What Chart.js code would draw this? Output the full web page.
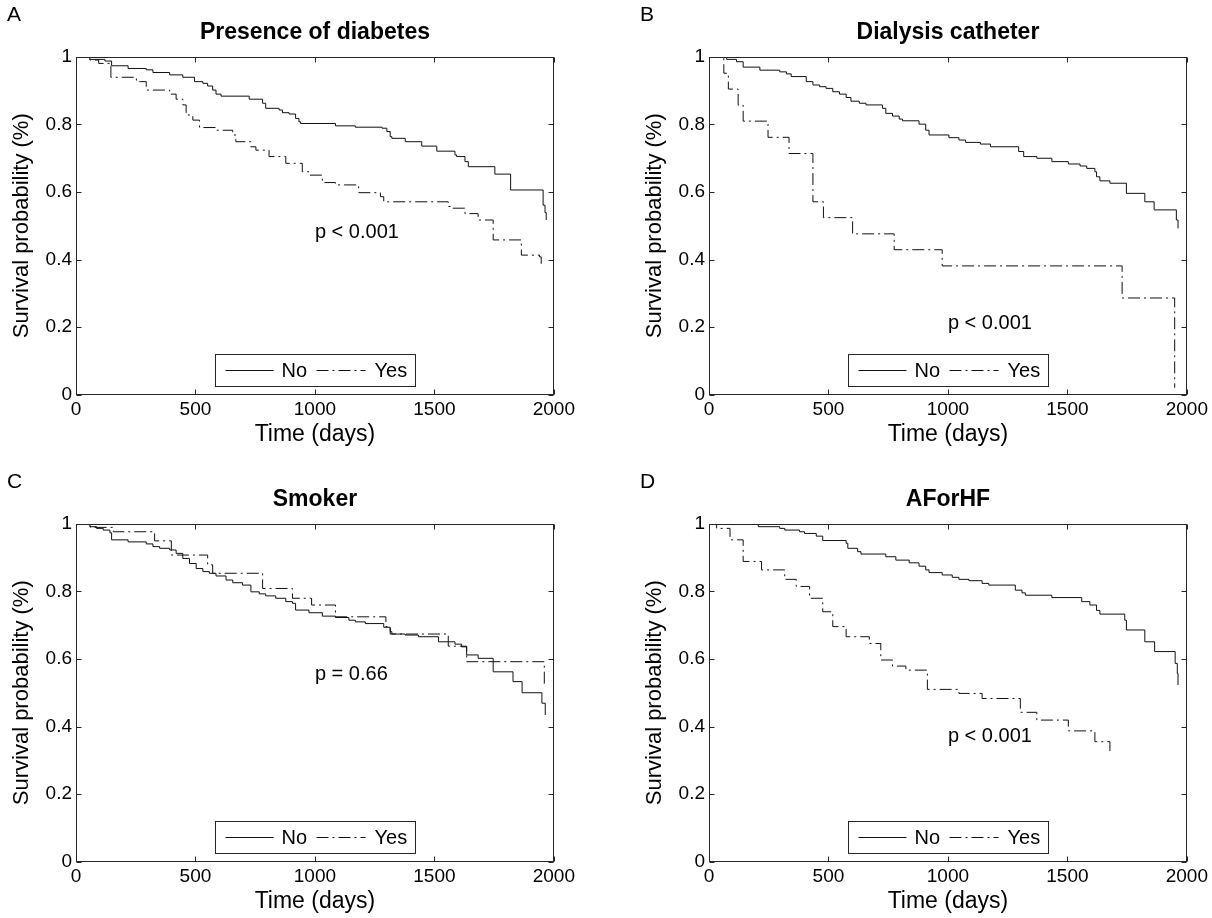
<!DOCTYPE html>
<html>
<head>
<meta charset="utf-8">
<script src="https://cdn.jsdelivr.net/npm/chart.js@4.4.1/dist/chart.umd.min.js"></script>
<style>
  body { margin: 0; background: #fff; }
  canvas { position: absolute; }
</style>
</head>
<body>
<canvas id="panelA" width="579" height="451" style="left:0px;top:0px"></canvas>
<canvas id="panelB" width="579" height="451" style="left:633px;top:0px"></canvas>
<canvas id="panelC" width="579" height="451" style="left:0px;top:467px"></canvas>
<canvas id="panelD" width="579" height="451" style="left:633px;top:467px"></canvas>
<script>
// tick labels shared by all four panels
const xTicks = [0, 500, 1000, 1500, 2000]
const xTickLabels = ['0', '500', '1000', '1500', '2000']
const yTicks = [0, 0.2, 0.4, 0.6, 0.8, 1]
const yTickLabels = ['0', '0.2', '0.4', '0.6', '0.8', '1']
const groupLabels = ['No', 'Yes']
const panelLetters = ['A', 'B', 'C', 'D']
const panelTitles = ['Presence of diabetes', 'Dialysis catheter', 'Smoker', 'AForHF']
const pValues = ['p < 0.001', 'p < 0.001', 'p = 0.66', 'p < 0.001']

// A - presence of diabetes
const diabetesNoT = [0, 58, 121, 149, 218, 294, 322, 392, 447, 496, 531, 551, 572, 586, 607, 725, 781, 794, 850, 864, 892, 919, 933, 940, 1086, 1169, 1281, 1301, 1315, 1322, 1378, 1447, 1510, 1586, 1593, 1628, 1642, 1753, 1819, 1955, 1963, 1968]
const diabetesNoS = [1, 0.993, 0.988, 0.974, 0.966, 0.962, 0.954, 0.947, 0.940, 0.927, 0.922, 0.914, 0.902, 0.890, 0.884, 0.875, 0.863, 0.848, 0.843, 0.835, 0.831, 0.818, 0.808, 0.803, 0.796, 0.792, 0.789, 0.779, 0.764, 0.759, 0.749, 0.736, 0.721, 0.710, 0.705, 0.690, 0.675, 0.653, 0.606, 0.561, 0.539, 0.517]
const diabetesYesT = [0, 58, 95, 146, 253, 294, 392, 419, 447, 461, 489, 517, 586, 656, 669, 732, 753, 808, 878, 947, 975, 1031, 1086, 1183, 1274, 1288, 1558, 1572, 1628, 1683, 1746, 1864, 1940, 1947]
const diabetesYesS = [1, 0.991, 0.981, 0.940, 0.927, 0.902, 0.890, 0.875, 0.858, 0.828, 0.813, 0.791, 0.783, 0.769, 0.749, 0.734, 0.724, 0.705, 0.685, 0.660, 0.650, 0.628, 0.621, 0.598, 0.586, 0.571, 0.557, 0.552, 0.536, 0.517, 0.458, 0.413, 0.408, 0.379]

// B - dialysis catheter
const catheterNoT = [0, 74, 115, 143, 213, 296, 324, 344, 407, 435, 463, 490, 518, 546, 574, 594, 629, 657, 726, 740, 768, 796, 810, 879, 907, 921, 1004, 1046, 1074, 1136, 1178, 1296, 1317, 1372, 1435, 1504, 1553, 1581, 1615, 1622, 1636, 1678, 1747, 1824, 1863, 1956, 1963]
const catheterNoS = [1, 0.993, 0.986, 0.970, 0.961, 0.956, 0.950, 0.942, 0.927, 0.917, 0.912, 0.907, 0.897, 0.890, 0.880, 0.869, 0.863, 0.858, 0.848, 0.833, 0.825, 0.816, 0.811, 0.801, 0.783, 0.769, 0.761, 0.754, 0.747, 0.742, 0.734, 0.720, 0.705, 0.700, 0.690, 0.683, 0.677, 0.670, 0.660, 0.645, 0.633, 0.626, 0.596, 0.571, 0.547, 0.517, 0.492]
const catheterYesT = [0, 62, 81, 122, 143, 247, 335, 435, 479, 601, 775, 976, 1729, 1949]
const catheterYesS = [1, 0.952, 0.905, 0.857, 0.810, 0.762, 0.714, 0.571, 0.524, 0.476, 0.429, 0.381, 0.286, 0.02]

// C - smoker
const smokerNoT = [0, 58, 86, 114, 142, 149, 218, 294, 322, 350, 392, 419, 447, 475, 503, 531, 558, 586, 628, 656, 697, 732, 767, 794, 836, 878, 906, 919, 975, 1031, 1086, 1142, 1169, 1211, 1288, 1315, 1322, 1378, 1433, 1517, 1586, 1614, 1635, 1683, 1746, 1829, 1867, 1950, 1964]
const smokerNoS = [1, 0.992, 0.987, 0.982, 0.974, 0.953, 0.947, 0.941, 0.933, 0.928, 0.923, 0.913, 0.898, 0.883, 0.868, 0.859, 0.854, 0.846, 0.834, 0.826, 0.819, 0.799, 0.793, 0.787, 0.780, 0.770, 0.765, 0.745, 0.737, 0.727, 0.723, 0.715, 0.710, 0.705, 0.694, 0.681, 0.674, 0.671, 0.666, 0.651, 0.644, 0.636, 0.612, 0.602, 0.562, 0.533, 0.500, 0.469, 0.434]
const smokerYesT = [0, 60, 156, 329, 399, 551, 572, 781, 906, 986, 1086, 1297, 1315, 1558, 1635, 1960]
const smokerYesS = [1, 0.990, 0.977, 0.950, 0.908, 0.879, 0.854, 0.809, 0.780, 0.760, 0.725, 0.696, 0.674, 0.638, 0.592, 0.523]

// D - AF or HF
const afhfNoT = [0, 206, 296, 317, 379, 400, 449, 476, 574, 581, 622, 636, 740, 782, 838, 879, 907, 921, 976, 1018, 1046, 1088, 1143, 1171, 1282, 1310, 1324, 1435, 1560, 1594, 1622, 1636, 1740, 1747, 1824, 1865, 1951, 1960, 1963]
const afhfNoS = [1, 0.992, 0.987, 0.982, 0.977, 0.972, 0.964, 0.951, 0.943, 0.928, 0.918, 0.911, 0.903, 0.893, 0.885, 0.875, 0.864, 0.856, 0.849, 0.842, 0.836, 0.832, 0.824, 0.819, 0.804, 0.796, 0.789, 0.782, 0.770, 0.760, 0.744, 0.733, 0.715, 0.686, 0.651, 0.622, 0.587, 0.557, 0.523]
const afhfYesT = [0, 32, 88, 143, 220, 317, 365, 421, 476, 518, 574, 671, 719, 768, 824, 914, 1046, 1143, 1303, 1372, 1504, 1615, 1678]
const afhfYesS = [1, 0.987, 0.953, 0.889, 0.864, 0.836, 0.815, 0.780, 0.740, 0.696, 0.666, 0.646, 0.597, 0.579, 0.567, 0.510, 0.498, 0.483, 0.442, 0.419, 0.387, 0.355, 0.325]

const FONT = "'Liberation Sans', Arial, Helvetica, sans-serif"
Chart.defaults.font.family = FONT
Chart.defaults.color = '#000'

const dashDot = [12, 4, 2, 4]

function toPoints(t, s) {
  return t.map((v, i) => ({x: v, y: s[i]}))
}

// where the p-value text sits, in data units
const pAnchors = [
  {x: 1000, y: 0.48},
  {x: 1000, y: 0.21},
  {x: 1000, y: 0.553},
  {x: 1000, y: 0.37}
]

// frame, inward ticks, title, letter, p text and the boxed legend, MATLAB style
const decor = {
  id: 'decor',
  afterDraw(chart, args, opts) {
    let ctx = chart.ctx
    let a = chart.chartArea
    let xs = chart.scales.x, ys = chart.scales.y
    ctx.save()
    ctx.strokeStyle = '#262626'
    ctx.lineWidth = 1
    let L = Math.round(a.left) + 0.5, R = Math.round(a.right) - 0.5
    let T = Math.round(a.top) + 0.5, B = Math.round(a.bottom) - 0.5
    ctx.strokeRect(L, T, R - L, B - T)
    ctx.beginPath()
    xTicks.forEach(v => {
      let px = Math.round(xs.getPixelForValue(v)) + 0.5
      ctx.moveTo(px, B); ctx.lineTo(px, B - 5)
      ctx.moveTo(px, T); ctx.lineTo(px, T + 5)
    })
    yTicks.forEach(v => {
      let py = Math.round(ys.getPixelForValue(v)) + 0.5
      ctx.moveTo(L, py); ctx.lineTo(L + 5, py)
      ctx.moveTo(R, py); ctx.lineTo(R - 5, py)
    })
    ctx.stroke()

    ctx.fillStyle = '#000'
    ctx.textBaseline = 'middle'
    // title
    ctx.font = 'bold 23px ' + FONT
    ctx.textAlign = 'center'
    ctx.fillText(opts.title, (a.left + a.right) / 2, a.top - 24)
    // panel letter
    ctx.font = '21px ' + FONT
    ctx.textAlign = 'left'
    ctx.fillText(opts.letter, 7, 15)
    // p value
    ctx.font = '20px ' + FONT
    ctx.fillText(opts.p, xs.getPixelForValue(opts.pAt.x), ys.getPixelForValue(opts.pAt.y))

    // legend box
    let bw = 200, bh = 32
    let bx = Math.round((a.left + a.right) / 2 - bw / 2) + 0.5
    let by = Math.round(a.bottom - 9 - bh) + 0.5
    ctx.fillStyle = '#fff'
    ctx.fillRect(bx, by, bw, bh)
    ctx.strokeStyle = '#262626'
    ctx.strokeRect(bx, by, bw, bh)
    let cy = by + bh / 2
    let offs = [[10, 58, 66], [101, 150, 159]]
    chart.data.datasets.forEach((ds, i) => {
      ctx.beginPath()
      ctx.setLineDash(ds.borderDash || [])
      ctx.strokeStyle = ds.borderColor
      ctx.moveTo(bx + offs[i][0], cy)
      ctx.lineTo(bx + offs[i][1], cy)
      ctx.stroke()
      ctx.setLineDash([])
      ctx.fillStyle = '#000'
      ctx.textAlign = 'left'
      ctx.fillText(ds.label, bx + offs[i][2], cy + 1)
    })
    ctx.restore()
  }
}

function kmChart(id, idx, noT, noS, yesT, yesS) {
  let el = document.getElementById(id).getContext('2d')
  return new Chart(el, {
    type: 'line',
    data: {
      datasets: [
        {label: groupLabels[0], data: toPoints(noT, noS), borderColor: '#111', borderWidth: 1, stepped: true, pointRadius: 0},
        {label: groupLabels[1], data: toPoints(yesT, yesS), borderColor: '#111', borderWidth: 1, borderDash: dashDot, stepped: true, pointRadius: 0}
      ]
    },
    options: {
      responsive: false,
      animation: false,
      events: [],
      layout: {padding: {top: 57, left: 0, right: 23, bottom: 0}},
      plugins: {
        legend: {display: false},
        title: {display: false},
        tooltip: {enabled: false},
        decor: {title: panelTitles[idx], letter: panelLetters[idx], p: pValues[idx], pAt: pAnchors[idx]}
      },
      scales: {
        x: {
          type: 'linear', min: 0, max: 2000,
          grid: {display: false, drawTicks: false},
          border: {display: false},
          afterBuildTicks: s => { s.ticks = xTicks.map(v => ({value: v})) },
          afterFit: s => { s.height = 56.5 },
          ticks: {font: {size: 19}, padding: 4, maxRotation: 0, callback: (v, i) => xTickLabels[i]},
          title: {display: true, text: 'Time (days)', font: {size: 23}, padding: {top: 0, bottom: 3}}
        },
        y: {
          min: 0, max: 1,
          grid: {display: false, drawTicks: false},
          border: {display: false},
          afterBuildTicks: s => { s.ticks = yTicks.map(v => ({value: v})) },
          afterFit: s => { s.width = 76 },
          ticks: {font: {size: 19}, padding: 4, callback: (v, i) => yTickLabels[i]},
          title: {display: true, text: 'Survival probability (%)', font: {size: 22}, padding: {top: 9, bottom: 0}}
        }
      }
    },
    plugins: [decor]
  })
}

kmChart('panelA', 0, diabetesNoT, diabetesNoS, diabetesYesT, diabetesYesS)
kmChart('panelB', 1, catheterNoT, catheterNoS, catheterYesT, catheterYesS)
kmChart('panelC', 2, smokerNoT, smokerNoS, smokerYesT, smokerYesS)
kmChart('panelD', 3, afhfNoT, afhfNoS, afhfYesT, afhfYesS)
</script>
</body>
</html>
